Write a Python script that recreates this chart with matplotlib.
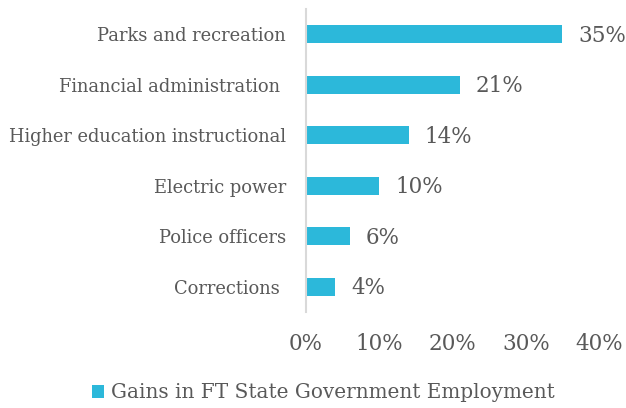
import matplotlib
matplotlib.use("Agg")
import matplotlib.pyplot as plt
from matplotlib.ticker import PercentFormatter

categories = ["Parks and recreation", "Financial administration ", "Higher education instructional",
              "Electric power", "Police officers", "Corrections "]
gains = [35, 21, 14, 10, 6, 4]
series_name = "Gains in FT State Government Employment"

bar_color = "#2cb8da"
text_color = "#595959"

plt.rcParams['font.family'] = ['DejaVu Serif']

fig = plt.figure(figsize=(6.26, 4.08), dpi=100)
ax = fig.add_axes([0.4888, 0.2353, 0.9569 - 0.4888, 0.978 - 0.2353])

y = list(range(len(categories)))
bars = ax.barh(y, gains, height=0.36, color=bar_color, label=series_name)
ax.set_yticks(y)
ax.set_yticklabels(categories)
ax.set_ylim(len(categories) - 0.5, -0.5)
ax.set_xlim(0, 40)
ax.set_xticks([0, 10, 20, 30, 40])
ax.xaxis.set_major_formatter(PercentFormatter(decimals=0))

# value labels to the right of each bar
for yi, v in zip(y, gains):
    ax.annotate(f"{v}%", xy=(v, yi), xytext=(11.5, -1), textcoords="offset points",
                va="center", ha="left", fontsize=15.5, color=text_color)

for s in ["top", "right", "bottom"]:
    ax.spines[s].set_visible(False)
ax.spines["left"].set_color("#d9d9d9")
ax.spines["left"].set_linewidth(1.5)
ax.tick_params(axis="both", length=0, colors=text_color)
ax.tick_params(axis="x", labelsize=15.5, pad=15)
ax.tick_params(axis="y", labelsize=12.9, pad=14.5)

fig.legend(handles=[bars], labels=[series_name], loc="center", bbox_to_anchor=(0.517, 0.037),
           frameon=False, fontsize=14.4, handlelength=0.6, handleheight=0.6, handletextpad=0.35,
           labelcolor=text_color)

fig.savefig("out.png", dpi=100)
